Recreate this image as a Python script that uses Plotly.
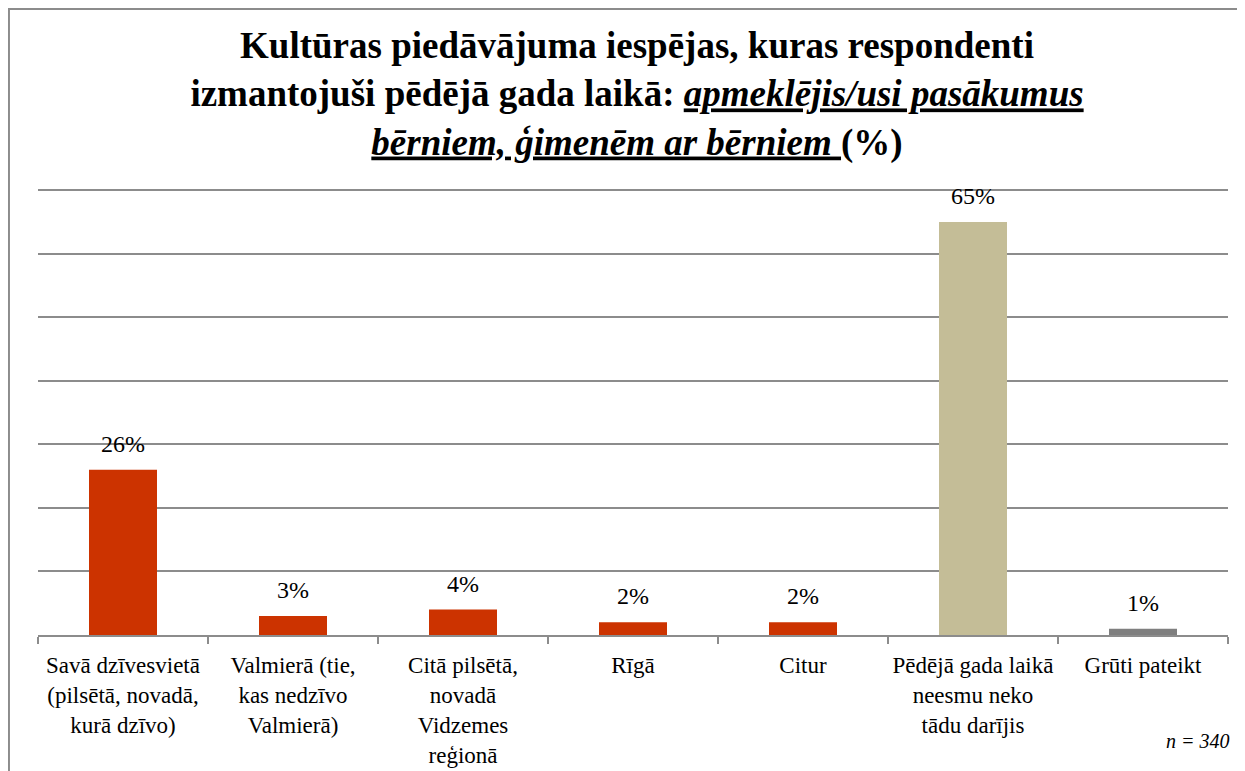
import plotly.graph_objects as go

FONT = "Liberation Serif, Times New Roman, serif"
GRID_COLOR = "#8c8c8c"

categories = [
    'Savā dzīvesvietā<br>(pilsētā, novadā,<br>kurā dzīvo)',
    'Valmierā (tie,<br>kas nedzīvo<br>Valmierā)',
    'Citā pilsētā,<br>novadā<br>Vidzemes<br>reģionā',
    'Rīgā',
    'Citur',
    'Pēdējā gada laikā<br>neesmu neko<br>tādu darījis',
    'Grūti pateikt',
]
values = [26, 3, 4, 2, 2, 65, 1]
value_labels = ['26%', '3%', '4%', '2%', '2%', '65%', '1%']
bar_colors = ['#cc3300', '#cc3300', '#cc3300', '#cc3300', '#cc3300', '#c4bd97', '#7f7f7f']
y_ticks = [0, 10, 20, 30, 40, 50, 60, 70]

title = ("<b>Kultūras piedāvājuma iespējas, kuras respondenti<br>"
         "izmantojuši pēdējā gada laikā: <i><u>apmeklējis/usi pasākumus</u></i><br>"
         "<i><u>bērniem, ģimenēm ar bērniem </u></i>(%)</b>")

fig = go.Figure()
fig.add_trace(
    go.Bar(
        x=categories,
        y=values,
        marker_color=bar_colors,
        marker_line_width=0,
        hoverinfo='skip',
    )
)

# value labels above the bars
for cat, val, lab in zip(categories, values, value_labels):
    fig.add_annotation(
        x=cat, y=val, text=lab, showarrow=False,
        yanchor='bottom', yshift=11,
        font=dict(family=FONT, size=24, color='black'),
    )

fig.add_annotation(
    x=1.003, y=-0.235, xref='paper', yref='paper',
    text='<i>n = 340</i>', showarrow=False,
    xanchor='right', yanchor='middle',
    font=dict(family=FONT, size=20, color='black'),
)

# chart frame (left and top edges are the only ones visible)
fig.add_shape(
    type='rect', xref='paper', yref='paper',
    x0=-0.0244, x1=1.2, y0=-0.6, y1=1.388,
    line=dict(color='#8c8c8c', width=2), layer='below',
)

# page body adds an 8px margin, so the figure is 8px smaller than the window
fig.update_layout(
    width=1237,
    height=763,
    margin=dict(l=30, r=17, t=176, b=136),
    plot_bgcolor='white',
    paper_bgcolor='white',
    showlegend=False,
    bargap=0.6,
    font=dict(family=FONT, color='black'),
    title=dict(
        text=title,
        x=0.5085, xanchor='center',
        y=0.934, yanchor='top',
        font=dict(family=FONT, size=37, color='black'),
    ),
    xaxis=dict(
        automargin=False,
        showgrid=False,
        showline=True,
        linecolor=GRID_COLOR,
        linewidth=1.5,
        ticks='outside',
        tickson='boundaries',
        ticklen=7,
        tickcolor=GRID_COLOR,
        tickwidth=1.5,
        tickangle=0,
        ticklabelstandoff=9,
        tickfont=dict(family=FONT, size=23, color='black'),
    ),
    yaxis=dict(
        automargin=False,
        range=[0, 71],
        tickvals=y_ticks,
        showticklabels=False,
        showgrid=True,
        gridcolor=GRID_COLOR,
        gridwidth=1.5,
        zeroline=False,
        showline=False,
    ),
)

fig.write_html("out.html")
